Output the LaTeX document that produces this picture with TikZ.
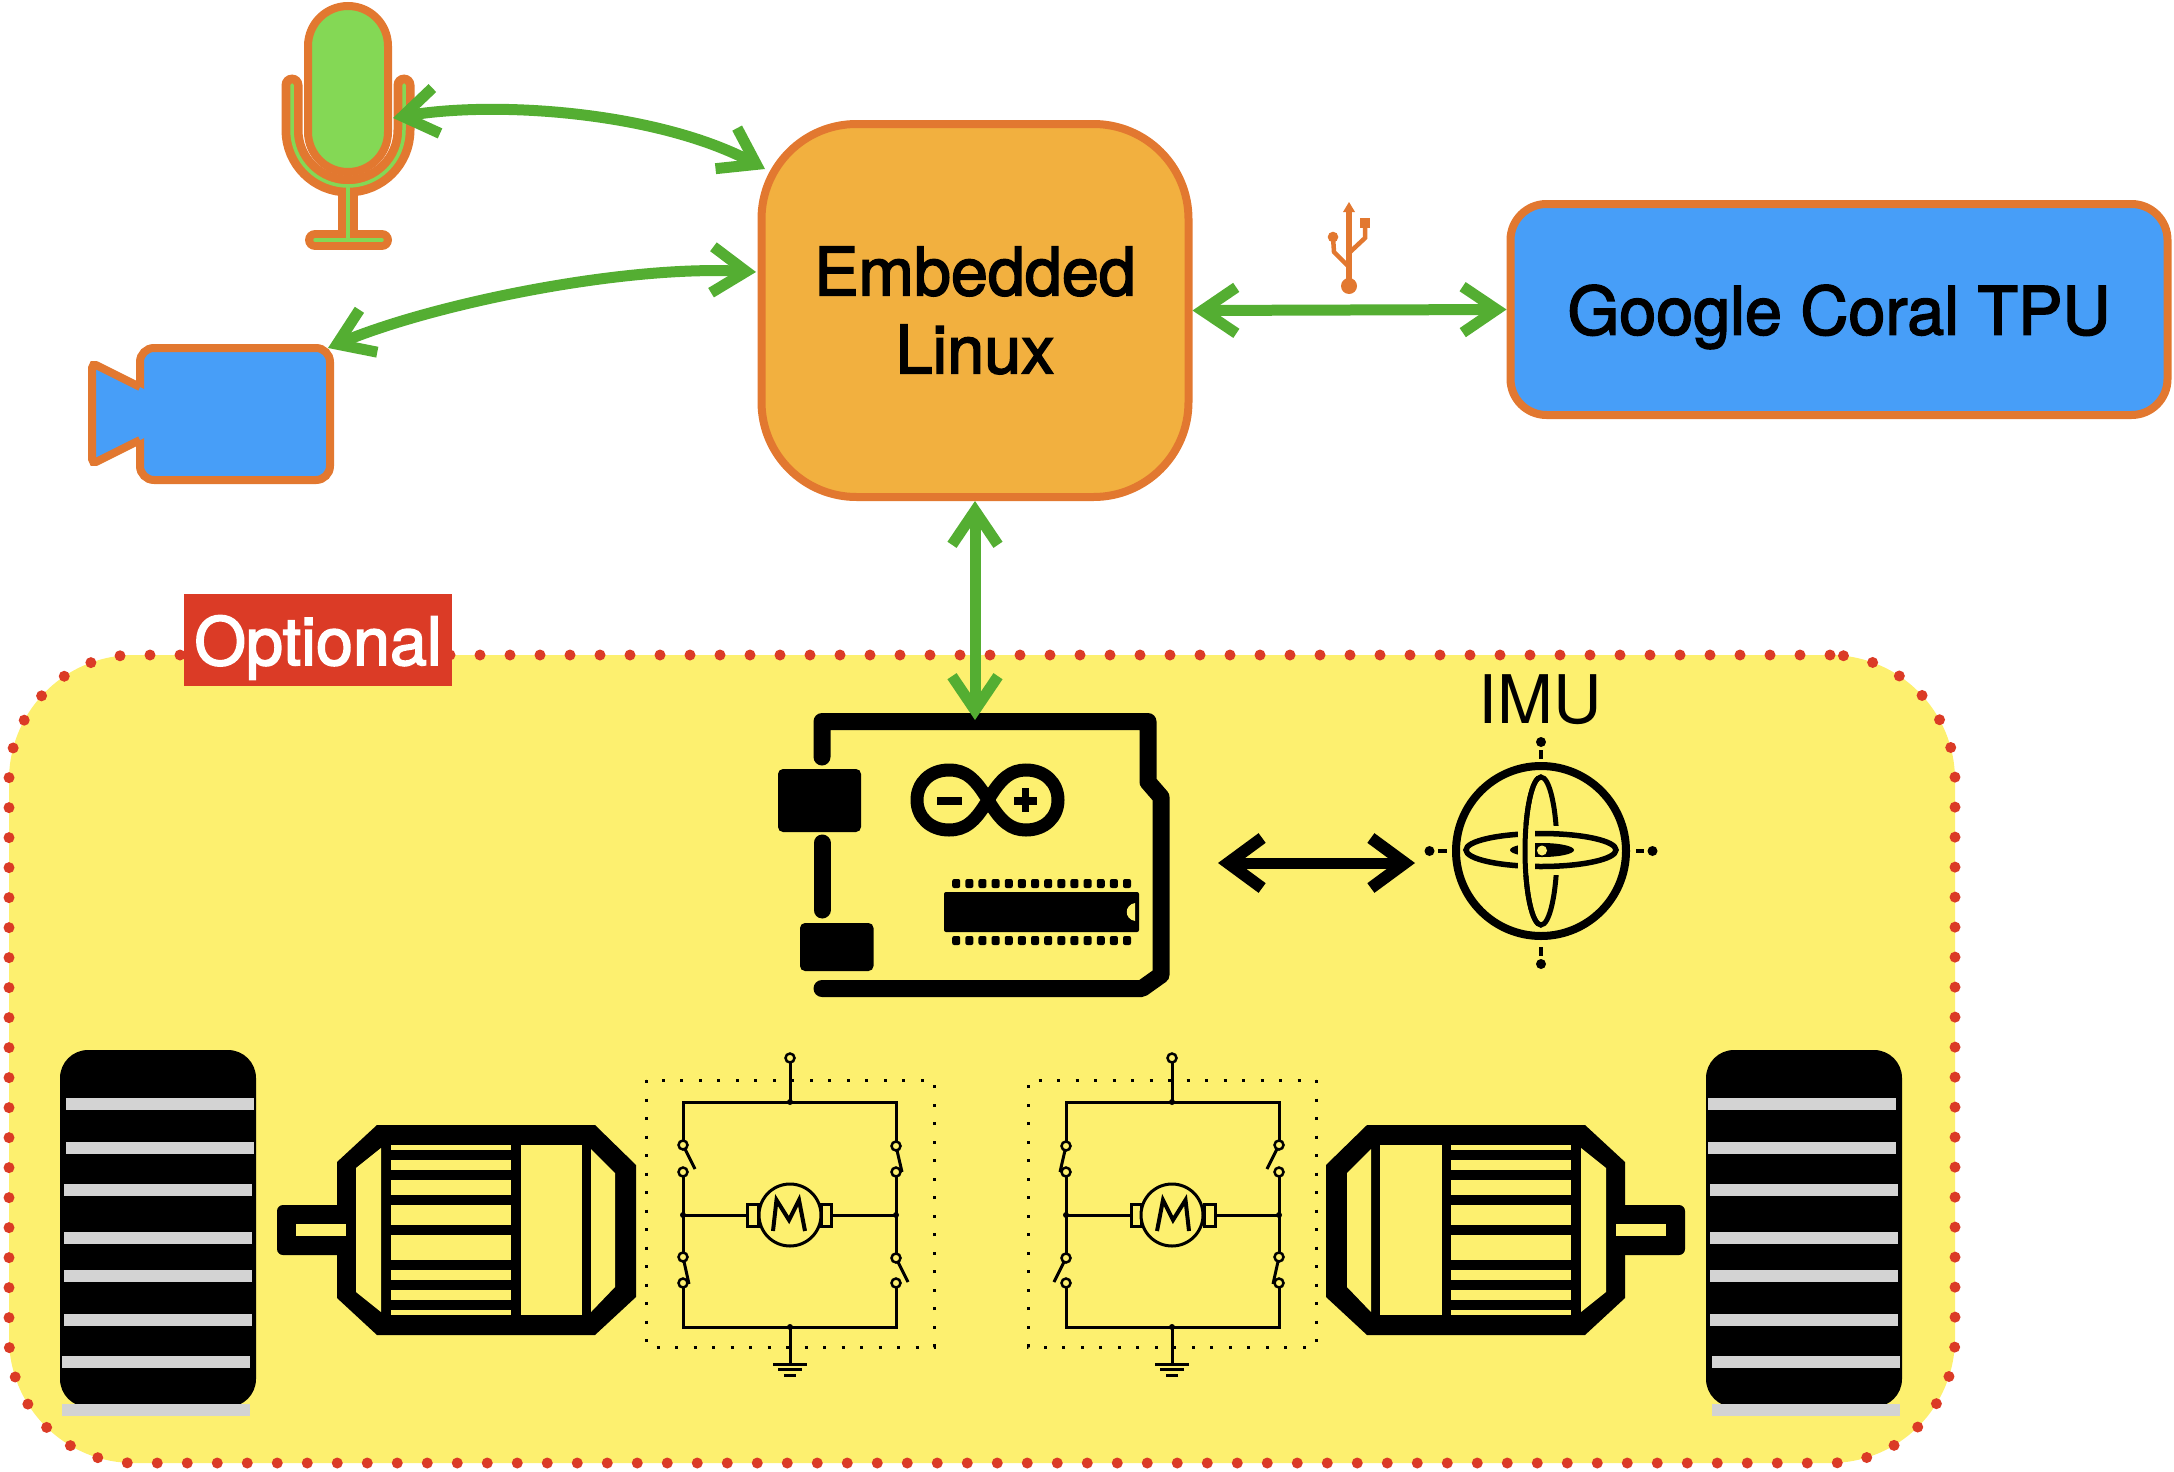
\documentclass[tikz,border=0pt]{standalone}
\usepackage{fontspec}
\setmainfont{TeX Gyre Heros}
\newfontfamily\heavyfont{TeX Gyre Heros}[FakeBold=2.4]
\usetikzlibrary{arrows.meta}
\definecolor{boxorange}{HTML}{E27830}
\definecolor{linuxfill}{HTML}{F2B03F}
\definecolor{tpublue}{HTML}{479EF8}
\definecolor{micgreen}{HTML}{84D855}
\definecolor{linkgreen}{HTML}{54AE32}
\definecolor{panelyellow}{HTML}{FDF06F}
\definecolor{dotred}{HTML}{DB3B26}
\definecolor{bargray}{HTML}{D3D3D3}
\tikzset{
  bigtext/.style={font=\heavyfont\fontsize{66.5}{78}\selectfont,align=center,inner sep=0pt},
  linkgreen/.style={<->,draw=linkgreen,line width=11pt,>={Straight Barb[length=34pt,width=46pt,line width=11pt]}},
  linkblack/.style={<->,draw=black,line width=11pt,>={Straight Barb[length=34pt,width=50pt,line width=12pt]}},
  thinwire/.style={line width=3pt},
  ring/.style={line width=2.5pt,fill=panelyellow},
}
\newcommand{\drivetrain}{%
% wheel
\fill [black,rounded corners=28pt] (60,1050) rectangle (256,1407);
\foreach \yb/\xb in {1098/66,1142/66,1184/64,1232/64,1270/64,1314/64,1356/62,1404/62}
{ \fill [bargray] (\xb,\yb) rectangle +(188,12);
}
% motor
\fill [black,rounded corners=6pt] (277,1205) rectangle (345,1255);
\fill [black] (337,1162)--(377,1125)--(595,1125)--(636,1165)--(636,1297)--(595,1335)--(377,1335)--(337,1298)--cycle;
\fill [panelyellow] (296,1224) rectangle (346,1236);
\fill [panelyellow] (381,1148)--(381,1312)--(356,1292)--(356,1168)--cycle;
\fill [panelyellow] (591,1149)--(615,1173)--(615,1287)--(591,1312)--cycle;
\fill [panelyellow] (520.5,1145) rectangle (582,1315);
\foreach \ya/\yb in {1145/1150,1160/1170,1180/1195,1205/1225,1235/1260,1270/1280,1290/1300,1310/1315}
{ \fill [panelyellow] (391,\ya) rectangle (511,\yb);
}
% bridge
\draw [line width=3pt,dash pattern=on 3pt off 15.5pt] (646,1080) rectangle (934,1347);
\draw [thinwire] (683,1145)--(683,1102)--(896,1102)--(896,1146);
\draw [thinwire] (683,1172)--(683,1257) (896,1172)--(896,1258);
\draw [thinwire] (683,1283)--(683,1327)--(896,1327)--(896,1283);
\draw [thinwire] (790,1062)--(790,1102) (790,1327)--(790,1364);
\draw [thinwire] (683,1215)--(747,1215) (831,1215)--(896,1215);
\draw [thinwire] (683,1145)--(695,1169) (683,1257)--(689,1284);
\draw [thinwire] (896,1146)--(902,1172) (896,1258)--(908,1282);
\draw [thinwire] (773,1364)--(807,1364) (778,1369)--(802,1369) (784,1375)--(796,1375);
\foreach \x/\y in {790/1058,683/1145,683/1172,683/1257,683/1283,896/1146,896/1172,896/1258,896/1283}
{ \draw [ring] (\x,\y) circle [radius=4.5pt];
}
\foreach \x/\y in {683/1215,896/1215,790/1102,790/1327}
{ \fill (\x,\y) circle [radius=3pt];
}
\draw [thinwire] (747,1204) rectangle (758,1226) (821,1204) rectangle (831,1226);
\draw [thinwire,fill=panelyellow] (790,1215) circle [radius=31pt];
\draw [line width=4pt] (773,1231)--(776.5,1200)--(789,1220)--(799,1200)--(805,1231);
}
\begin{document}
\begin{tikzpicture}[x=1pt,y=-1pt]
\useasboundingbox (0,0) rectangle (2174,1472);

\node (panel) at (982,1059) [rectangle,minimum width=1946pt,minimum height=808pt,inner sep=0pt,outer sep=0pt,rounded corners=125pt,fill=panelyellow,draw=dotred,line width=11pt,line cap=round,dash pattern=on 0pt off 30pt] {};
\node (optional) at (318,640) [rectangle,fill=dotred,text=white,minimum width=268pt,minimum height=92pt,bigtext,text height=50pt,text depth=0pt] {Optional};

\node (linux) at (975,310.5) [rectangle,draw=boxorange,fill=linuxfill,line width=8pt,rounded corners=95pt,minimum width=427pt,minimum height=373pt,bigtext] {Embedded\\Linux};
\node (coral) at (1839,309.5) [rectangle,draw=boxorange,fill=tpublue,line width=8pt,rounded corners=36pt,minimum width=657pt,minimum height=211pt,bigtext,text height=50pt,text depth=0pt] {Google Coral TPU};
\node (imulabel) at (1540,700) [inner sep=0pt,font=\fontsize{67}{67}\selectfont] {IMU};

% microphone
\draw [boxorange,line width=21pt,line cap=round] (292,85)--(292,130) .. controls (292,161) and (317,186) .. (348,186) .. controls (379,186) and (404,161) .. (404,130)--(404,85);
\draw [boxorange,line width=20pt,line cap=round] (348,186)--(348,240) (315,240)--(382,240);
\draw [micgreen,line width=3.5pt,line cap=round] (292,85)--(292,130) .. controls (292,161) and (317,186) .. (348,186) .. controls (379,186) and (404,161) .. (404,130)--(404,85);
\draw [micgreen,line width=3.5pt,line cap=round] (348,186)--(348,240) (315,240)--(382,240);
\draw [boxorange,fill=micgreen,line width=8pt,rounded corners=40pt] (308,6) rectangle (388,172);

% camera
\draw [boxorange,fill=tpublue,line width=8pt,rounded corners=14pt] (140,348) rectangle (330,480);
\fill [tpublue] (145,389.5)--(92,363)--(92,464)--(145,437.5)--cycle;
\draw [boxorange,line width=8pt,rounded corners=5pt] (140,387)--(92,363)--(92,464)--(140,440);

% usb
\draw [boxorange,line width=5.5pt] (1349,286)--(1349,210);
\fill [boxorange] (1349,202)--(1355,212)--(1343,212)--cycle;
\fill [boxorange] (1349,286) circle [radius=8pt];
\draw [boxorange,line width=4.5pt] (1349,267)--(1334,252)--(1333,237);
\fill [boxorange] (1333,237) circle [radius=5.3pt];
\draw [boxorange,line width=4.5pt] (1349,253)--(1365,238)--(1365,225);
\fill [boxorange] (1360,218) rectangle (1370,228);

% arduino
\draw [line width=17pt,line cap=round,line join=round] (822,757)--(822,721.5)--(1148,721.5)--(1148,782)--(1161,797)--(1161,975)--(1142,988.5)--(822,988.5);
\draw [line width=17pt,line cap=round] (822,843)--(822,910);
\fill [rounded corners=5pt] (778,769) rectangle (861,832);
\fill [rounded corners=5pt] (800,923) rectangle (873.5,971);
\draw [line width=13pt] (988,800) .. controls (975,778) and (965,770) .. (949,770) .. controls (930,770) and (917,783) .. (917,800) .. controls (917,817) and (930,830) .. (949,830) .. controls (965,830) and (975,822) .. (988,800) .. controls (1001,778) and (1011,770) .. (1026,770) .. controls (1045,770) and (1058,783) .. (1058,800) .. controls (1058,817) and (1045,830) .. (1026,830) .. controls (1011,830) and (1001,822) .. (988,800);
\fill (937,797) rectangle (962,805);
\fill (1014,797) rectangle (1037,805);
\fill (1022,788) rectangle (1029,812);
\fill [rounded corners=2pt] (944,892) rectangle (1139,932);
\fill [panelyellow] (1135,903) .. controls (1124,905) and (1124,919) .. (1135,921)--cycle;
\foreach \i in {0,...,13}
{ \fill [rounded corners=2pt] (956.2+13.14*\i-4,879) rectangle (956.2+13.14*\i+4,888);
  \fill [rounded corners=2pt] (956.2+13.14*\i-4,936) rectangle (956.2+13.14*\i+4,945);
}

% gimbal
\draw [line width=8pt] (1541,851) circle [radius=85pt];
\draw [line width=5pt] (1541,851) ellipse [x radius=16pt,y radius=74pt];
\fill [panelyellow] (1551,826) rectangle (1566,875);
\draw [line width=5.5pt] (1541,850) ellipse [x radius=75pt,y radius=16.5pt];
\fill (1542,850) ellipse [x radius=32pt,y radius=7pt];
\fill [panelyellow] (1542,850.5) ellipse [x radius=5pt,y radius=5pt];
\fill [panelyellow] (1518,825) rectangle (1535,875);
\begin{scope}
\clip (1510,770) rectangle (1541,932);
\draw [line width=5pt] (1541,851) ellipse [x radius=16pt,y radius=74pt];
\end{scope}
\foreach \x/\y in {1541/742,1541/964,1429.5/851,1652.5/851}
{ \fill (\x,\y) circle [radius=5pt];
}
\draw [line width=4pt] (1541,750)--(1541,759) (1541,947)--(1541,956) (1438,851)--(1447,851) (1636,851)--(1644,851);

% drive units
\drivetrain
\begin{scope}[xshift=1962pt,xscale=-1]
\drivetrain
\end{scope}

% links
\coordinate (micport) at (393,118);
\coordinate (linuxmic) at (765,169);
\coordinate (camport) at (328,348);
\coordinate (linuxcam) at (756,272);
\coordinate (boardport) at (975,720);
\coordinate (boardright) at (1218,863);
\coordinate (imuport) at (1415,863);
\draw [linkgreen] (micport) .. controls (500,100) and (660,113) .. (linuxmic);
\draw [linkgreen] (camport) .. controls (430,305) and (620,265) .. (linuxcam);
\draw [linkgreen] (linux.east)--(coral.west);
\draw [linkgreen] (linux.south)--(boardport);
\draw [linkblack] (boardright)--(imuport);
\end{tikzpicture}
\end{document}
